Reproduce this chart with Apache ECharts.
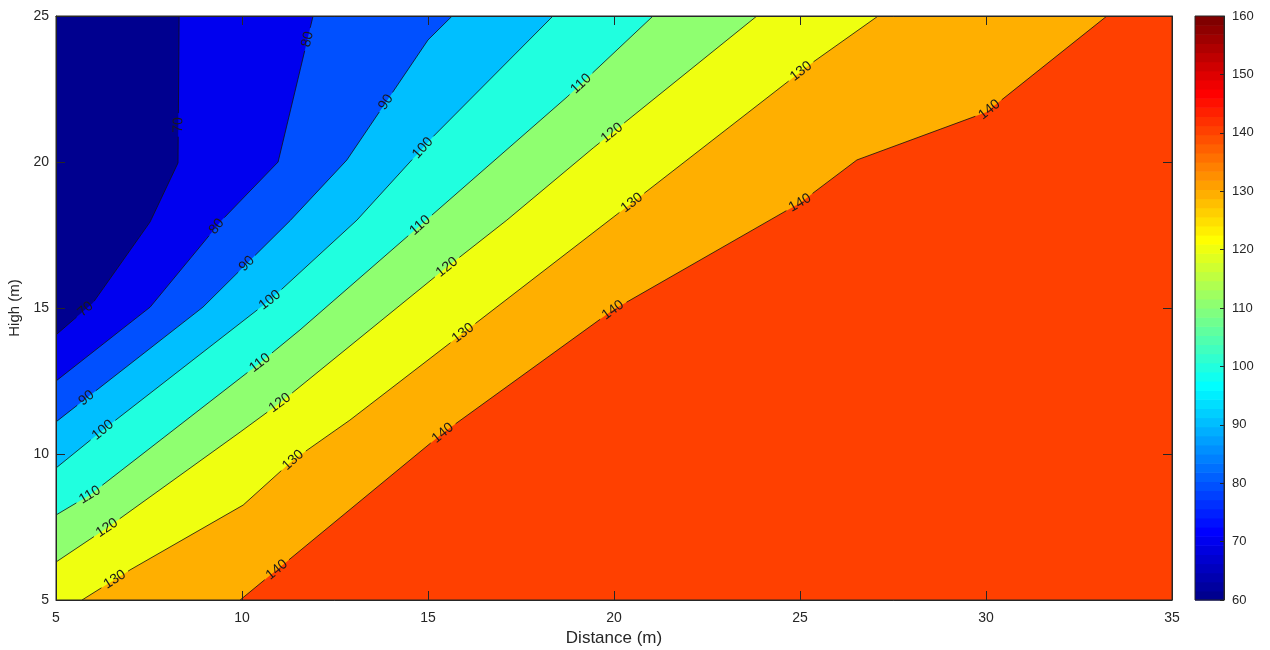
<!DOCTYPE html>
<html><head><meta charset="utf-8">
<script src="https://cdn.jsdelivr.net/npm/echarts@6/dist/echarts.min.js"></script>
<style>html,body{margin:0;padding:0;background:#fff}#c{width:1270px;height:650px}</style>
</head><body><div id="c"></div>
<script>
// ---- data ----
const levels = [70, 80, 90, 100, 110, 120, 130, 140];
// contour lines (Distance, High), from left/bottom edge to top edge
const c70  = [[5,14.08],[5.99,15.17],[7.53,17.95],[8.28,19.97],[8.31,25]];
const c80  = [[5,12.5],[7.53,15.03],[9.46,18.01],[10.97,20.0],[11.91,25]];
const c90  = [[5,11.1],[8.95,15.03],[11.3,18.0],[12.82,20.07],[15.0,24.18],[15.65,25]];
const c100 = [[5,9.52],[6.26,10.82],[10.75,15.27],[13.09,18.01],[15.13,20.86],[18.36,25]];
const c110 = [[5,7.91],[5.91,8.6],[10.48,13.12],[11.56,14.25],[15.05,18.12],[18.74,22.23],[21.05,25]];
const c120 = [[5,6.3],[6.37,7.47],[9.95,10.75],[11.02,11.75],[15.51,16.4],[17.12,18.01],[19.44,20.48],[23.84,25]];
const c130 = [[5.7,5],[6.99,6.03],[10.03,8.25],[11.37,9.79],[12.9,11.16],[15.94,14.14],[20.48,18.6],[25.35,23.42],[27.1,25]];
const c140 = [[9.95,5],[15.4,10.72],[19.97,14.93],[25.0,18.6],[26.53,20.07],[30.0,21.7],[33.25,25]];
// contour label positions
const l70  = [[5.81,14.93],[8.3,21.27]];
const l80  = [[9.27,17.84],[11.83,24.18]];
const l90  = [[5.86,11.85],[10.03,16.64],[13.9,22.02]];
const l100 = [[6.26,10.82],[10.75,15.27],[14.92,20.41]];
const l110 = [[5.91,8.6],[10.48,13.12],[14.78,17.84],[19.09,22.71]];
const l120 = [[6.37,7.47],[11.02,11.75],[15.51,16.4],[19.95,20.99]];
const l130 = [[6.59,5.68],[11.37,9.79],[15.94,14.14],[20.48,18.6],[25.0,23.15]];
const l140 = [[10.94,6.03],[15.4,10.72],[19.97,14.93],[25.0,18.6],[30.1,21.78]];
const xTicks = [5, 35, 5];   // min, max, step
const yTicks = [5, 25, 5];
const cbTicks = [60, 160, 10];

const contours = [c70, c80, c90, c100, c110, c120, c130, c140];
const labelPts = [l70, l80, l90, l100, l110, l120, l130, l140];

// ---- jet(64) colormap ----
function jetU(k){ if(k<1||k>47) return 0; if(k<=16) return k/16; if(k<=31) return 1; return (48-k)/16; }
function jet64(j){
  const n=j+1;
  const r=jetU(n-24), g=jetU(n-8), b=jetU(n+8);
  return 'rgb('+Math.round(r*255)+','+Math.round(g*255)+','+Math.round(b*255)+')';
}
function colorOf(v){
  let j=Math.floor((v-cbTicks[0])/(cbTicks[1]-cbTicks[0])*64);
  j=Math.max(0,Math.min(63,j)); return jet64(j);
}

const X0=xTicks[0], X1=xTicks[1], Y0=yTicks[0], Y1=yTicks[1];
const fillLevels=[60].concat(levels);

function regionPoly(i){
  if(i===0) return [[X0,Y0],[X0,Y1],[X1,Y1],[X1,Y0]];
  const c=contours[i-1];
  const pts=c.slice();
  pts.push([X1,Y1],[X1,Y0]);
  if(c[0][1]>Y0) pts.push([X0,Y0]);
  return pts;
}

const fam='"Liberation Sans", Arial, Helvetica, sans-serif';
const font='14px '+fam;
const textColor='#262626';

function renderFill(params, api){
  const i=params.dataIndex;
  const pts=regionPoly(i).map(p=>api.coord(p));
  return {type:'polygon', shape:{points:pts}, style:{fill:colorOf(fillLevels[i]), stroke:null}};
}

function renderLine(params, api){
  const i=params.dataIndex;
  const pts=contours[i].map(p=>api.coord(p));
  const cum=[0];
  for(let k=1;k<pts.length;k++){
    cum.push(cum[k-1]+Math.hypot(pts[k][0]-pts[k-1][0],pts[k][1]-pts[k-1][1]));
  }
  const total=cum[cum.length-1];
  function at(s){
    for(let k=1;k<pts.length;k++){
      if(s<=cum[k]||k===pts.length-1){
        const L=cum[k]-cum[k-1]; const t=L>0?(s-cum[k-1])/L:0;
        return {p:[pts[k-1][0]+(pts[k][0]-pts[k-1][0])*t, pts[k-1][1]+(pts[k][1]-pts[k-1][1])*t], k:k};
      }
    }
  }
  const txt=String(levels[i]);
  const hw=txt.length*3.9+4;
  const labs=labelPts[i].map(lp=>{
    const q=api.coord(lp); let best=1e9, bs=0;
    for(let k=1;k<pts.length;k++){
      const ax=pts[k-1][0], ay=pts[k-1][1], bx=pts[k][0], by=pts[k][1];
      const dx=bx-ax, dy=by-ay, L2=dx*dx+dy*dy;
      let t=L2>0?((q[0]-ax)*dx+(q[1]-ay)*dy)/L2:0; t=Math.max(0,Math.min(1,t));
      const px=ax+dx*t, py=ay+dy*t, d=Math.hypot(q[0]-px,q[1]-py);
      if(d<best){best=d; bs=cum[k-1]+t*Math.sqrt(L2);}
    }
    return bs;
  }).sort((a,b)=>a-b);
  const children=[];
  let start=0;
  const gaps=labs.map(s=>[Math.max(0,s-hw),Math.min(total,s+hw)]);
  gaps.push([total,total]);
  gaps.forEach(g=>{
    const a=start, b=g[0];
    if(b>a+0.5){
      const seg=[at(a).p];
      for(let k=0;k<pts.length;k++){ if(cum[k]>a&&cum[k]<b) seg.push(pts[k]); }
      seg.push(at(b).p);
      children.push({type:'polyline', shape:{points:seg}, style:{stroke:'#111', lineWidth:0.8, fill:null}});
    }
    start=g[1];
  });
  labs.forEach(s=>{
    const r=at(s); const k=r.k;
    const dx=pts[k][0]-pts[k-1][0], dy=pts[k][1]-pts[k-1][1];
    let ang=-Math.atan2(dy,dx);
    if(ang>Math.PI/2) ang-=Math.PI; if(ang<-Math.PI/2) ang+=Math.PI;
    children.push({type:'text', x:r.p[0], y:r.p[1], rotation:ang,
      style:{text:txt, x:0, y:0, align:'center', verticalAlign:'middle', font:font, fill:'#1a1a1a'}});
  });
  return {type:'group', children:children};
}

function renderBar(params, api){
  const j=params.dataIndex;
  const step=(cbTicks[1]-cbTicks[0])/64;
  const a=api.coord([1, cbTicks[0]+j*step]);
  const b=api.coord([2, cbTicks[0]+(j+1)*step]);
  return {type:'rect', shape:{x:a[0], y:b[1], width:b[0]-a[0], height:a[1]-b[1]+0.6}, style:{fill:jet64(j)}};
}
const barSteps=[]; for(let j=0;j<64;j++) barSteps.push([1,cbTicks[0]+j*(cbTicks[1]-cbTicks[0])/64]);

const axisLine={show:true, onZero:false, lineStyle:{color:'#262626', width:1}};
const tickIn={show:true, inside:true, length:9, lineStyle:{color:'#262626', width:1}};
const lbl={color:textColor, fontSize:14, fontFamily:fam};

const chart=echarts.init(document.getElementById('c'));
chart.setOption({
  animation:false,
  backgroundColor:'#fff',
  grid:[
    {left:56, top:16, width:1116, height:584, containLabel:false, outerBoundsMode:'none',
     show:true, borderColor:'#262626', borderWidth:1, backgroundColor:'transparent', z:10},
    {left:1195, top:16, width:29, height:584, containLabel:false, outerBoundsMode:'none',
     show:true, borderColor:'#262626', borderWidth:1, backgroundColor:'transparent', z:10}
  ],
  xAxis:[
    {gridIndex:0, type:'value', min:X0, max:X1, interval:xTicks[2], position:'bottom',
     axisLine:axisLine, axisTick:tickIn, splitLine:{show:false}, axisLabel:Object.assign({margin:11},lbl),
     name:'Distance (m)', nameLocation:'middle', nameGap:29,
     nameTextStyle:{color:textColor, fontSize:17, fontFamily:fam}, z:10},
    {gridIndex:0, type:'value', min:X0, max:X1, interval:xTicks[2], position:'top',
     axisLine:axisLine, axisTick:tickIn, splitLine:{show:false}, axisLabel:{show:false}, z:10},
    {gridIndex:1, type:'value', min:1, max:2, show:false}
  ],
  yAxis:[
    {gridIndex:0, type:'value', min:Y0, max:Y1, interval:yTicks[2], position:'left',
     axisLine:axisLine, axisTick:tickIn, splitLine:{show:false}, axisLabel:Object.assign({margin:7},lbl),
     name:'High (m)', nameLocation:'middle', nameGap:24, nameRotate:90,
     nameTextStyle:{color:textColor, fontSize:15, fontFamily:fam}, z:10},
    {gridIndex:0, type:'value', min:Y0, max:Y1, interval:yTicks[2], position:'right',
     axisLine:axisLine, axisTick:tickIn, splitLine:{show:false}, axisLabel:{show:false}, z:10},
    {gridIndex:1, type:'value', min:cbTicks[0], max:cbTicks[1], interval:cbTicks[2], position:'right',
     axisLine:axisLine, axisTick:{show:true, inside:true, length:4, lineStyle:{color:'#262626'}},
     splitLine:{show:false}, axisLabel:{margin:8, color:textColor, fontSize:13, fontFamily:fam}, z:10}
  ],
  series:[
    {type:'custom', xAxisIndex:0, yAxisIndex:0, renderItem:renderFill, clip:true,
     data:fillLevels.map(v=>[X0,Y0,v]), encode:{x:0,y:1}, z:1, silent:true},
    {type:'custom', xAxisIndex:0, yAxisIndex:0, renderItem:renderLine, clip:true,
     data:levels.map(v=>[X0,Y0,v]), encode:{x:0,y:1}, z:2, silent:true},
    {type:'custom', xAxisIndex:2, yAxisIndex:2, renderItem:renderBar,
     data:barSteps, encode:{x:0,y:1}, z:1, silent:true}
  ]
});
</script>
</body></html>
